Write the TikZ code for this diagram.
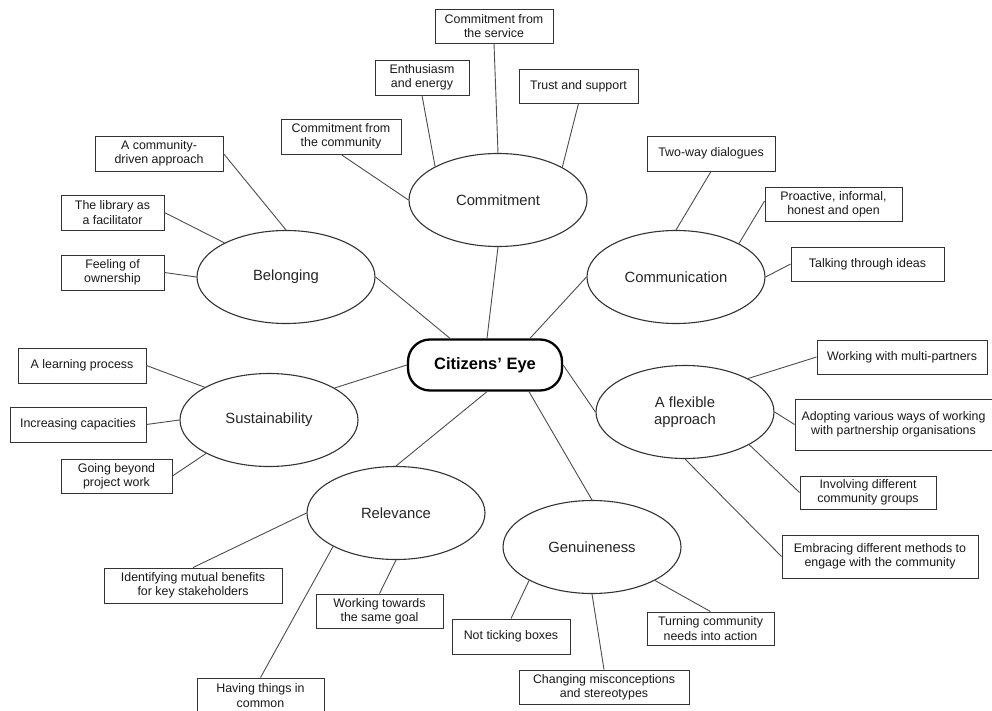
\documentclass[tikz,border=0pt]{standalone}
\usepackage{fontspec}
\setmainfont{Liberation Sans}
\usetikzlibrary{shapes.geometric}
\begin{document}
\begin{tikzpicture}[x=1pt,y=-1pt,
  box/.style={draw=black!80, line width=0.9pt, fill=white, align=center,
    inner sep=0pt, text=black!90, font=\fontsize{12.4}{14.3}\selectfont},
  theme/.style={ellipse, draw=black!80, line width=1.1pt, fill=white, align=center,
    inner sep=0pt, minimum width=178, minimum height=93, text=black!85,
    font=\fontsize{14.8}{17}\selectfont},
  hub/.style={draw=black, line width=2.3pt, rounded corners=22pt, fill=white,
    minimum width=154, minimum height=51, inner sep=0pt,
    font=\fontsize{16.5}{19}\selectfont\bfseries},
  link/.style={draw=black!70, line width=0.9pt}]
\useasboundingbox (0,0) rectangle (992,711);

% centre
\node[hub] (cit) at (485,365) {Citizens’ Eye};

% themes
\node[theme] (com) at (498,200) {Commitment};
\node[theme] (bel) at (286,277) {Belonging};
\node[theme] (cmm) at (676,277) {Communication};
\node[theme] (sus) at (269,420) {Sustainability};
\node[theme] (flx) at (685,412) {A flexible\\approach};
\node[theme] (rel) at (396,513) {Relevance};
\node[theme] (gen) at (592,547) {Genuineness};

% Commitment
\node[box, minimum width=118, minimum height=34] (svc) at (494,26) {Commitment from\\the service};
\node[box, minimum width=94, minimum height=35] (ent) at (422,77.5) {Enthusiasm\\and energy};
\node[box, minimum width=119, minimum height=34] (tru) at (578.5,86) {Trust and support};
\node[box, minimum width=120, minimum height=35] (ccm) at (341,136.5) {Commitment from\\the community};

% Belonging
\node[box, minimum width=128, minimum height=35] (cda) at (159,153.5) {A community-\\driven approach};
\node[box, minimum width=103, minimum height=35] (lib) at (112.5,212.5) {The library as\\a facilitator};
\node[box, minimum width=103, minimum height=35] (own) at (112.5,272.5) {Feeling of\\ownership};

% Communication
\node[box, minimum width=128, minimum height=35] (two) at (711,153.5) {Two-way dialogues};
\node[box, minimum width=137, minimum height=34] (pro) at (833.5,204) {Proactive, informal,\\honest and open};
\node[box, minimum width=153, minimum height=34] (tlk) at (867.5,264) {Talking through ideas};

% Sustainability
\node[box, minimum width=128, minimum height=35] (lrn) at (82,365.5) {A learning process};
\node[box, minimum width=136, minimum height=35] (inc) at (78,424.5) {Increasing capacities};
\node[box, minimum width=111, minimum height=34] (gob) at (116.5,476) {Going beyond\\project work};

% Relevance
\node[box, minimum width=178, minimum height=35] (idm) at (193,585.5) {Identifying mutual benefits\\for key stakeholders};
\node[box, minimum width=127, minimum height=34] (wtg) at (379.5,611) {Working towards\\the same goal};
\node[box, minimum width=127, minimum height=35] (hav) at (260.5,695.5) {Having things in\\common};

% Genuineness
\node[box, minimum width=118, minimum height=35] (ntb) at (511,636.5) {Not ticking boxes};
\node[box, minimum width=170, minimum height=34] (chg) at (604,687) {Changing misconceptions\\and stereotypes};
\node[box, minimum width=127, minimum height=33] (trn) at (710.5,628.5) {Turning community\\needs into action};

% A flexible approach
\node[box, minimum width=170, minimum height=34] (mlt) at (902,357) {Working with multi-partners};
\node[box, minimum width=197, minimum height=51] (adp) at (893.5,424.5) {Adopting various ways of working\\with partnership organisations};
\node[box, minimum width=136, minimum height=33] (inv) at (868,492.5) {Involving different\\community groups};
\node[box, minimum width=196, minimum height=43] (emb) at (880,556.5) {Embracing different methods to\\engage with the community};

% themes to centre
\draw[link] (com.south) -- ([xshift=2pt]cit.north);
\draw[link] (bel.east) -- ([xshift=-35pt]cit.north);
\draw[link] (cmm.west) -- ([xshift=45pt]cit.north);
\draw[link] (sus.26.6) -- (cit.west);
\draw[link] (flx.west) -- (cit.east);
\draw[link] (rel.north) -- ([xshift=2pt]cit.south);
\draw[link] (gen.north) -- ([xshift=44pt]cit.south);

% boxes to themes
\draw[link] (svc.south) -- (com.north);
\draw[link] (ent.south) -- (com.152.4);
\draw[link] (tru.south) -- (com.27.6);
\draw[link] (ccm.south) -- (com.west);

\draw[link] (cda.east) -- (bel.north);
\draw[link] (lib.east) -- (bel.151.6);
\draw[link] (own.east) -- (bel.west);

\draw[link] (two.south) -- (cmm.north);
\draw[link] ([yshift=3pt]pro.west) -- (cmm.28.7);
\draw[link] (tlk.west) -- (cmm.east);

\draw[link] (lrn.east) -- (sus.153.8);
\draw[link] (inc.east) -- (sus.west);
\draw[link] (gob.east) -- (sus.208);

\draw[link] (idm.north) -- (rel.west);
\draw[link] (wtg.north) -- (rel.south);
\draw[link] (hav.north) -- (rel.208.4);

\draw[link] (ntb.north) -- (gen.208);
\draw[link] (chg.north) -- (gen.south);
\draw[link] (trn.north) -- (gen.332);

\draw[link] (mlt.west) -- (flx.28);
\draw[link] (adp.west) -- (flx.east);
\draw[link] (inv.west) -- (flx.333);
\draw[link] (emb.west) -- (flx.south);
\end{tikzpicture}
\end{document}
